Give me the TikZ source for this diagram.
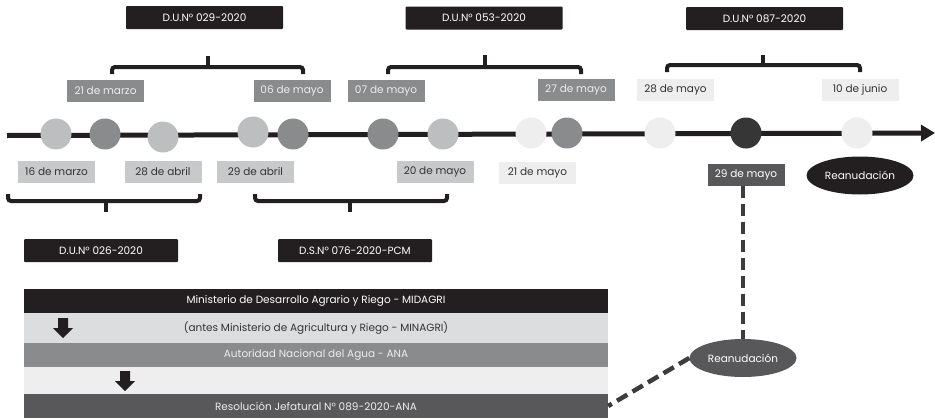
\documentclass[tikz,border=0pt]{standalone}
\usepackage{fontspec}
\setmainfont{Poppins}
\usetikzlibrary{arrows.meta,shapes.geometric}
\definecolor{cblack}{HTML}{231F20}
\definecolor{cmid}{HTML}{8A8B8D}
\definecolor{clight}{HTML}{BCBEC0}
\definecolor{clab}{HTML}{C8C9CB}
\definecolor{cvlight}{HTML}{EEEEEE}
\definecolor{cdark}{HTML}{58585A}
\definecolor{cdot}{HTML}{363636}
\definecolor{cband}{HTML}{DCDDDF}
\definecolor{ctxt}{HTML}{333333}
\definecolor{cwtxt}{HTML}{EDEDED}
\definecolor{cdash}{HTML}{3C3C3C}
\tikzset{
  txt/.style={font=\fontsize{10.5}{12}\selectfont},
  datebox/.style={rectangle, minimum width=77pt, minimum height=22pt, inner sep=0pt, txt},
  midbox/.style={datebox, fill=cmid, text=cwtxt},
  lightbox/.style={datebox, fill=clab, text=ctxt},
  vlightbox/.style={datebox, fill=cvlight, text=ctxt},
  darkbox/.style={datebox, fill=cdark, text=white},
  normbox/.style={rectangle, fill=cblack, text=white, minimum width=157pt, minimum height=23pt, inner sep=0pt, rounded corners=1pt, txt},
  dot/.style={circle, minimum size=31pt, inner sep=0pt},
  brace/.style={draw=cblack, line width=4pt, rounded corners=3pt},
  tline/.style={draw=cblack, line width=5pt, -{Triangle[length=14pt,width=16pt]}},
  band/.style={rectangle, minimum width=584pt, inner sep=0pt, txt},
  ell/.style={ellipse, minimum width=107pt, minimum height=38pt, inner sep=0pt, txt},
  dashline/.style={draw=cdash, line width=4.5pt, dash pattern=on 12pt off 6pt},
  blockarrow/.style={fill=cblack}
}
\begin{document}
\begin{tikzpicture}[x=1pt,y=-1pt]
\useasboundingbox (0,0) rectangle (935,418);
% top norm boxes
\node[normbox] (n029) at (204.5,17.5) {D.U.N° 029-2020};
\node[normbox] (n053) at (484,18) {D.U.N° 053-2020};
\node[normbox] (n087) at (764.5,18.5) {D.U.N° 087-2020};
% bottom norm boxes
\node[normbox, minimum width=154pt] (n026) at (101,250.5) {D.U.N° 026-2020};
\node[normbox, minimum width=154pt] (n076) at (355,250.5) {D.S.N° 076-2020-PCM};
% top braces
\draw[brace] (112,74) -- (112,67) -- (303,67) -- (303,74);
\draw[brace] (208,67) -- (208,56);
\draw[brace] (388,74) -- (388,67) -- (581,67) -- (581,74);
\draw[brace] (485,67) -- (485,55);
\draw[brace] (667,72) -- (667,65) -- (860,65) -- (860,72);
\draw[brace] (763,65) -- (763,55);
% bottom braces
\draw[brace] (8,194) -- (8,201) -- (200,201) -- (200,194);
\draw[brace] (106,201) -- (106,212);
\draw[brace] (255,194) -- (255,201) -- (447,201) -- (447,194);
\draw[brace] (350,201) -- (350,212);
% top date labels
\node[midbox] (d21m) at (105.5,90.5) {21 de marzo};
\node[midbox] (d06my) at (292,90.5) {06 de mayo};
\node[midbox] (d07my) at (386,90.5) {07 de mayo};
\node[midbox] (d27my) at (576,90) {27 de mayo};
\node[vlightbox] (d28my) at (675.5,90) {28 de mayo};
\node[vlightbox] (d10jn) at (860,90) {10 de junio};
% bottom date labels
\node[lightbox] (d16m) at (56.5,172) {16 de marzo};
\node[lightbox] (d28a) at (163,172) {28 de abril};
\node[lightbox] (d29a) at (255.5,172) {29 de abril};
\node[lightbox] (d20my) at (435,172) {20 de mayo};
\node[vlightbox] (d21my) at (537.5,172.5) {21 de mayo};
\node[darkbox] (d29my) at (746,174.5) {29 de mayo};
% timeline
\coordinate (tstart) at (7,135.5);
\coordinate (tend) at (935,133);
\draw[tline] (tstart) -- (tend);
\node[dot, fill=clight] (c1) at (56,134) {};
\node[dot, fill=cmid] (c2) at (105,134) {};
\node[dot, fill=clight] (c3) at (163,137) {};
\node[dot, fill=clight] (c4) at (253,132) {};
\node[dot, fill=cmid] (c5) at (293,134) {};
\node[dot, fill=cmid] (c6) at (383,134) {};
\node[dot, fill=clight] (c7) at (443,134) {};
\node[dot, fill=cvlight] (c8) at (531,133) {};
\node[dot, fill=cmid] (c9) at (567,133) {};
\node[dot, fill=cvlight] (c10) at (660,133) {};
\node[dot, fill=cdot] (c11) at (746,133) {};
\node[dot, fill=cvlight] (c12) at (857,133) {};
% reanudacion ellipses
\node[ell, fill=cblack, text=white] (rea1) at (860,175.5) {Reanudación};
\node[ell, fill=cdark, text=white] (rea2) at (743,358) {Reanudación};
% bands
\node[band, fill=cblack, text=white, minimum height=24pt] (b1) at (316,301) {Ministerio de Desarrollo Agrario y Riego - MIDAGRI};
\node[band, fill=cband, text=ctxt, minimum height=30pt] (b2) at (316,328) {(antes Ministerio de Agricultura y Riego - MINAGRI)};
\node[band, fill=cmid, text=cwtxt, minimum height=24pt] (b3) at (316,355) {Autoridad Nacional del Agua - ANA};
\node[band, fill=cvlight, minimum height=27pt] (b4) at (316,380.5) {};
\node[band, fill=cdark, text=cwtxt, minimum height=24pt] (b5) at (316,406) {Resolución Jefatural N° 089-2020-ANA};
% block arrows
\fill[blockarrow] (58,318) -- (68,318) -- (68,328) -- (73,328) -- (63,338) -- (53,328) -- (58,328) -- cycle;
\fill[blockarrow] (120,371) -- (130,371) -- (130,381) -- (135,381) -- (125,391) -- (115,381) -- (120,381) -- cycle;
% dashed connectors
\draw[dashline] (d29my.south -| rea2.north) -- (rea2.north);
\draw[dashline] (rea2.west) -- (b5.east);
\end{tikzpicture}
\end{document}
